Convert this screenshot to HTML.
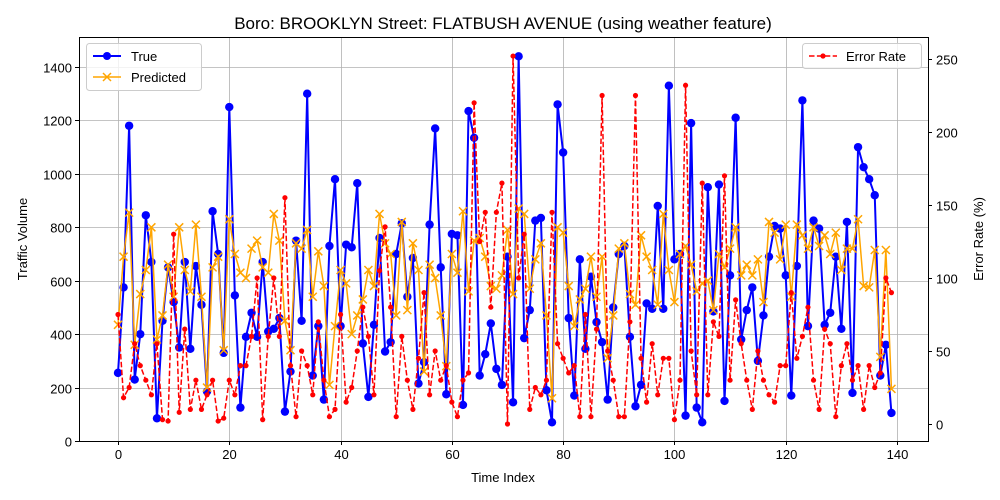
<!DOCTYPE html>
<html><head><meta charset="utf-8"><style>
html,body{margin:0;padding:0;background:#fff}
svg{display:block;font-family:"Liberation Sans","DejaVu Sans",sans-serif}
</style></head><body>
<svg id="chart" width="1000" height="500" viewBox="0 0 1000 500">
<text x="503" y="29" font-size="17" text-anchor="middle">Boro: BROOKLYN Street: FLATBUSH AVENUE (using weather feature)</text>
<g id="grid"></g>
<g id="series"></g>
<rect x="79.5" y="37.5" width="849" height="404" fill="none" stroke="#000" stroke-width="1"/>
<g id="axes"></g>
<text x="503" y="482" font-size="13" text-anchor="middle">Time Index</text>
<text transform="translate(27,239) rotate(-90)" font-size="13" text-anchor="middle">Traffic Volume</text>
<text transform="translate(983,239) rotate(-90)" font-size="13" text-anchor="middle">Error Rate (%)</text>
<g>
<rect x="86.5" y="43.5" width="115" height="47" rx="3" fill="#fff" fill-opacity="0.8" stroke="#ccc"/>
<g><line x1="93" y1="56" x2="121" y2="56" stroke="#0000ff" stroke-width="2"/><circle cx="107" cy="56" r="4" fill="#0000ff"/><text x="131" y="61" font-size="13">True</text></g>
<g><line x1="93" y1="77" x2="121" y2="77" stroke="#ffa500" stroke-width="1.5"/><path d="M103,73 l8,8 M111,73 l-8,8" stroke="#ffa500" stroke-width="1.5"/><text x="131" y="82" font-size="13">Predicted</text></g>
</g>
<g>
<rect x="802.5" y="43.5" width="119" height="25" rx="3" fill="#fff" fill-opacity="0.8" stroke="#ccc"/>
<g><line x1="809" y1="56" x2="837" y2="56" stroke="#ff0000" stroke-width="1.5" stroke-dasharray="5.5,2.4"/><circle cx="823" cy="56" r="2.6" fill="#ff0000"/><text x="846" y="61" font-size="13">Error Rate</text></g>
</g>
</svg>
<script>
const trueVals=[255,575,1180,230,400,845,670,85,450,650,520,350,670,345,655,510,185,860,700,330,1250,545,125,390,480,390,670,410,420,460,110,260,750,450,1300,245,430,155,730,980,430,735,725,965,365,165,435,760,335,370,700,815,540,685,215,295,810,1170,650,175,775,770,135,1235,1135,245,325,440,270,210,690,145,1440,385,490,825,835,190,70,1260,1080,460,170,680,345,615,445,370,155,500,700,730,390,130,210,515,495,880,495,1330,680,700,95,1190,125,70,950,485,960,150,620,1210,380,490,575,300,470,690,805,795,620,170,655,1275,430,825,795,435,480,690,420,820,180,1100,1025,980,920,245,360,105];
const predVals=[435,690,855,360,550,640,800,380,470,660,540,800,640,560,810,540,200,650,690,340,830,700,630,610,720,750,650,630,850,750,450,340,740,720,790,540,710,580,210,430,640,590,400,470,530,640,580,850,740,700,470,820,490,740,640,260,660,610,470,280,700,630,860,560,750,760,690,580,570,620,790,550,870,850,570,680,740,470,160,800,780,580,430,530,570,690,540,690,310,470,720,740,550,510,770,690,640,510,850,640,520,700,730,660,560,590,600,490,700,650,720,800,620,660,620,680,520,820,780,680,810,540,810,770,720,800,730,770,700,780,640,720,720,830,580,575,715,315,715,195];
const errVals=[75,18,25,55,40,30,20,55,3,2,130,8,65,10,30,10,20,30,2,4,30,20,40,40,60,100,3,60,100,60,155,40,5,50,40,20,70,30,5,10,75,15,25,50,80,60,20,105,135,80,5,60,30,10,45,90,20,50,30,40,15,5,30,35,220,125,145,80,145,165,0,252,100,130,10,25,20,30,145,55,45,35,40,5,75,5,65,225,50,30,5,5,70,225,45,15,55,20,45,45,3,30,232,50,20,165,20,70,60,170,30,85,55,30,10,50,30,20,15,40,40,90,45,60,80,30,10,65,55,5,40,55,30,40,10,40,25,35,100,90];
const xTicks=[0,20,40,60,80,100,120,140];
const yTicks=[0,200,400,600,800,1000,1200,1400];
const y2Ticks=[0,50,100,150,200,250];
const NS="http://www.w3.org/2000/svg";
const X=i=>118+i*(897-118)/140;
const Y=v=>441-v*(441-67)/1400;
const Y2=v=>424-v*(424-59)/250;
function mk(tag,attrs,parent){const e=document.createElementNS(NS,tag);for(const k in attrs)e.setAttribute(k,attrs[k]);parent.appendChild(e);return e;}
const grid=document.getElementById('grid'),axes=document.getElementById('axes'),ser=document.getElementById('series');
xTicks.forEach(t=>{const x=Math.round(X(t))+0.5;
 const g=mk('line',{x1:x,x2:x,y1:37,y2:441,stroke:'#b0b0b0','stroke-width':0.8},grid);
 
 
 mk('line',{x1:x,x2:x,y1:441,y2:445,stroke:'#000'},axes);
 const tx=mk('text',{x:x,y:459,'font-size':13,'text-anchor':'middle'},axes);tx.textContent=t;
 
 });
yTicks.forEach(t=>{const y=Math.round(Y(t))+0.5;
 const g=mk('line',{x1:79,x2:928,y1:y,y2:y,stroke:'#b0b0b0','stroke-width':0.8},grid);
 
 
 mk('line',{x1:75,x2:79,y1:y,y2:y,stroke:'#000'},axes);
 const tx=mk('text',{x:72,y:y+5,'font-size':13,'text-anchor':'end'},axes);tx.textContent=t;
 
 });
y2Ticks.forEach(t=>{const y=Math.round(Y2(t))+0.5;
 mk('line',{x1:928,x2:932,y1:y,y2:y,stroke:'#000'},axes);
 const tx=mk('text',{x:936,y:y+5,'font-size':13},axes);tx.textContent=t;
 
 });
const tl=mk('polyline',{points:trueVals.map((v,i)=>X(i)+','+Y(v)).join(' '),fill:'none',stroke:'#0000ff','stroke-width':2},ser);


trueVals.forEach((v,i)=>{const c=mk('circle',{cx:X(i),cy:Y(v),r:4.2,fill:'#0000ff'},ser);
 
 });
const pl=mk('polyline',{points:predVals.map((v,i)=>X(i)+','+Y(v)).join(' '),fill:'none',stroke:'#ffa500','stroke-width':1.5},ser);


predVals.forEach((v,i)=>{const x=X(i),y=Y(v);const p=mk('path',{d:`M${x-4},${y-4}L${x+4},${y+4}M${x+4},${y-4}L${x-4},${y+4}`,stroke:'#ffa500','stroke-width':1.5},ser);
 
 });
const el=mk('polyline',{points:errVals.map((v,i)=>X(i)+','+Y2(v)).join(' '),fill:'none',stroke:'#ff0000','stroke-width':1.5,'stroke-dasharray':'5.5,2.4'},ser);


errVals.forEach((v,i)=>{const c=mk('circle',{cx:X(i),cy:Y2(v),r:2.6,fill:'#ff0000'},ser);
 
 });
</script>
</body></html>
